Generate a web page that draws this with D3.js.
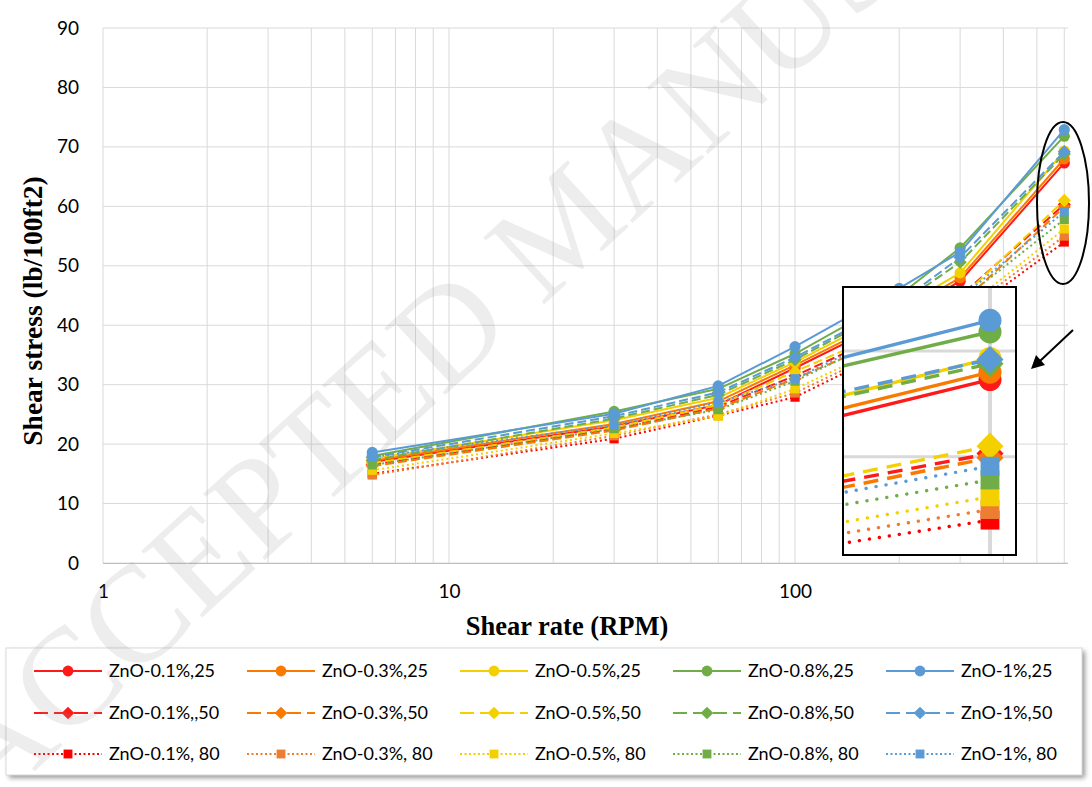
<!DOCTYPE html>
<html><head><meta charset="utf-8">
<script src="https://cdn.jsdelivr.net/npm/d3@7"></script>
<style>body{margin:0;background:#fff;}svg{display:block;}</style>
</head><body>
<svg id="chart" width="1092" height="787"></svg>
<script>
// ---------------- data ----------------
const shearRate = [6, 30, 60, 100, 200, 300, 600];
const yTicks = [0, 10, 20, 30, 40, 50, 60, 70, 80, 90];
const xTickLabels = [1, 10, 100];
const insetGridY = [60, 70];
const insetGridX = [600];

const zno01_25 = [17.0, 23.0, 26.6, 32.8, 41.5, 47.4, 67.3];
const zno03_25 = [17.2, 23.4, 27.2, 33.3, 42.0, 48.0, 68.0];
const zno05_25 = [17.5, 24.0, 27.8, 33.8, 42.8, 48.8, 69.3];
const zno08_25 = [18.0, 25.5, 29.3, 35.2, 45.0, 53.0, 71.8];
const zno1_25  = [18.6, 25.1, 29.8, 36.4, 46.2, 52.3, 72.9];
const zno01_50 = [16.6, 22.5, 26.3, 31.5, 39.5, 44.9, 60.3];
const zno03_50 = [16.3, 22.3, 26.0, 31.0, 38.5, 43.5, 59.9];
const zno05_50 = [16.8, 22.8, 26.6, 32.2, 39.8, 44.5, 61.0];
const zno08_50 = [17.3, 24.3, 28.3, 34.2, 43.5, 50.6, 68.8];
const zno1_50  = [17.8, 24.7, 28.7, 34.6, 43.8, 51.4, 69.2];
const zno01_80 = [15.0, 20.9, 24.8, 27.9, 36.5, 41.2, 54.0];
const zno03_80 = [14.8, 21.4, 25.0, 28.6, 37.0, 41.8, 55.0];
const zno05_80 = [15.6, 21.8, 24.7, 29.3, 37.5, 42.2, 56.2];
const zno08_80 = [16.5, 22.6, 25.8, 30.6, 39.0, 44.0, 57.8];
const zno1_80  = [17.8, 23.2, 27.0, 31.0, 39.5, 44.5, 59.1];

const seriesNames = ["ZnO-0.1%,25","ZnO-0.3%,25","ZnO-0.5%,25","ZnO-0.8%,25","ZnO-1%,25",
  "ZnO-0.1%,,50","ZnO-0.3%,50","ZnO-0.5%,50","ZnO-0.8%,50","ZnO-1%,50",
  "ZnO-0.1%, 80","ZnO-0.3%, 80","ZnO-0.5%, 80","ZnO-0.8%, 80","ZnO-1%, 80"];
const seriesValues = [zno01_25, zno03_25, zno05_25, zno08_25, zno1_25,
  zno01_50, zno03_50, zno05_50, zno08_50, zno1_50,
  zno01_80, zno03_80, zno05_80, zno08_80, zno1_80];

// ---------------- styles ----------------
const colors25 = ["#FF1A1A", "#FA7A00", "#F5D000", "#70AD47", "#5B9BD5"];
const colors80 = ["#FF0000", "#ED7D31", "#F5D000", "#70AD47", "#5B9BD5"];
const styles = ["solid", "dash", "dot"];
const markers = ["circle", "diamond", "square"];

const series = seriesNames.map((name, i) => {
  const g = Math.floor(i / 5), c = i % 5;
  return { name, values: seriesValues[i], color: g === 2 ? colors80[c] : colors25[c],
           style: styles[g], marker: markers[g] };
});

const svg = d3.select("#chart");
svg.append("rect").attr("width", 1092).attr("height", 787).attr("fill", "#fff");

const x = d3.scaleLog().domain([1, 615]).range([103, 1068]);
const y = d3.scaleLinear().domain([0, 90]).range([563, 28]);

const FONT = "Lato, 'Open Sans', sans-serif";
const SERIF = "'Liberation Serif', 'Times New Roman', serif";

// grid
const grid = svg.append("g");
grid.selectAll("line.v").data(x.ticks()).join("line")
  .attr("x1", d => x(d)).attr("x2", d => x(d)).attr("y1", 28).attr("y2", 563)
  .attr("stroke", "#d9d9d9").attr("stroke-width", 1);
grid.selectAll("line.h").data(yTicks).join("line")
  .attr("x1", 103).attr("x2", 1068).attr("y1", d => y(d)).attr("y2", d => y(d))
  .attr("stroke", "#d9d9d9").attr("stroke-width", 1);
svg.append("line").attr("x1", 103).attr("x2", 1068).attr("y1", 563.5).attr("y2", 563.5)
  .attr("stroke", "#bfbfbf").attr("stroke-width", 1.2);

// axes
const xAxis = svg.append("g").attr("transform", "translate(0,563)")
  .call(d3.axisBottom(x).tickValues(xTickLabels).tickFormat(d3.format("d")).tickSize(0).tickPadding(22));
const yAxis = svg.append("g").attr("transform", "translate(103,0)")
  .call(d3.axisLeft(y).tickValues(yTicks).tickSize(0).tickPadding(24));
[xAxis, yAxis].forEach(a => {
  a.select(".domain").remove();
  a.selectAll("text").attr("font-family", FONT).attr("font-size", 19).attr("fill", "#000");
});

svg.append("text").attr("x", 567).attr("y", 635).attr("text-anchor", "middle")
  .attr("font-family", SERIF).attr("font-weight", "bold")
  .attr("font-size", 26.5).text("Shear rate (RPM)");
svg.append("text").attr("transform", "translate(42,311) rotate(-90)").attr("text-anchor", "middle")
  .attr("font-family", SERIF).attr("font-weight", "bold")
  .attr("font-size", 27.5).text("Shear stress (lb/100ft2)");

// marker drawing helper
function drawMarker(g, type, cx, cy, size, color) {
  if (type === "circle") {
    g.append("circle").attr("cx", cx).attr("cy", cy).attr("r", size).attr("fill", color);
  } else if (type === "diamond") {
    const s = size * 1.18;
    g.append("path").attr("d", `M${cx},${cy - s}L${cx + s},${cy}L${cx},${cy + s}L${cx - s},${cy}Z`).attr("fill", color);
  } else {
    const s = size * 0.82;
    g.append("rect").attr("x", cx - s).attr("y", cy - s).attr("width", 2 * s).attr("height", 2 * s).attr("fill", color);
  }
}

function drawSeries(g, xs, ys, opts) {
  const line = d3.line().x((d, i) => xs(shearRate[i])).y(d => ys(d));
  series.forEach(s => {
    const p = g.append("path").attr("d", line(s.values)).attr("fill", "none")
      .attr("stroke", s.color).attr("stroke-width", opts.lw);
    if (s.style === "dash") p.attr("stroke-dasharray", opts.dash);
    if (s.style === "dot") p.attr("stroke-dasharray", opts.dot).attr("stroke-linecap", opts.dotCap);
    s.values.forEach((v, i) => drawMarker(g, s.marker, xs(shearRate[i]), ys(v), opts.ms, s.color));
  });
}

// main series
drawSeries(svg.append("g"), x, y, { lw: 2, dash: "9,4", dot: "2,3", dotCap: "butt", ms: 5.6 });

// ---------------- inset ----------------
const inset = { x0: 843, y0: 287, x1: 1016, y1: 555 };
const xi = d3.scaleLog().domain([533, 600]).range([843, 990]);
const yi = d3.scaleLinear().domain([60, 70]).range([456.7, 351]);
svg.append("clipPath").attr("id", "insetClip").append("rect")
  .attr("x", inset.x0).attr("y", inset.y0).attr("width", inset.x1 - inset.x0).attr("height", inset.y1 - inset.y0);
const ig = svg.append("g").attr("clip-path", "url(#insetClip)");
ig.append("rect").attr("x", inset.x0).attr("y", inset.y0).attr("width", inset.x1 - inset.x0)
  .attr("height", inset.y1 - inset.y0).attr("fill", "#fff");
ig.selectAll("line.h").data(insetGridY).join("line")
  .attr("x1", inset.x0).attr("x2", inset.x1).attr("y1", d => yi(d)).attr("y2", d => yi(d))
  .attr("stroke", "#d9d9d9").attr("stroke-width", 3);
ig.selectAll("line.v").data(insetGridX).join("line")
  .attr("x1", d => xi(d)).attr("x2", d => xi(d)).attr("y1", inset.y0).attr("y2", inset.y1)
  .attr("stroke", "#d9d9d9").attr("stroke-width", 4);
drawSeries(ig, xi, yi, { lw: 3.4, dash: "15,9", dot: "0.1,10", dotCap: "round", ms: 11.5 });
svg.append("rect").attr("x", inset.x0).attr("y", inset.y0).attr("width", inset.x1 - inset.x0)
  .attr("height", inset.y1 - inset.y0).attr("fill", "none").attr("stroke", "#000").attr("stroke-width", 2);

// ellipse + arrow
svg.append("ellipse").attr("cx", 1063).attr("cy", 203).attr("rx", 26).attr("ry", 81)
  .attr("fill", "none").attr("stroke", "#000").attr("stroke-width", 2);
svg.append("line").attr("x1", 1073).attr("y1", 330).attr("x2", 1040).attr("y2", 361)
  .attr("stroke", "#000").attr("stroke-width", 2);
svg.append("path").attr("d", "M1031,369 L1036,355 L1045,365 Z").attr("fill", "#000");

// ---------------- legend ----------------
const defs = svg.append("defs");
const f = defs.append("filter").attr("id", "shadow").attr("x", "-5%").attr("y", "-20%").attr("width", "110%").attr("height", "140%");
f.append("feGaussianBlur").attr("stdDeviation", 2.5);
svg.append("rect").attr("x", 9).attr("y", 651).attr("width", 1076).attr("height", 127)
  .attr("fill", "#999").attr("filter", "url(#shadow)");
svg.append("rect").attr("x", 6).attr("y", 648).attr("width", 1076).attr("height", 127)
  .attr("fill", "#fff").attr("stroke", "#d9d9d9");
const colX = [34, 247, 460, 673, 886];
const rowY = [671, 713, 754];
const lg = svg.append("g");
series.forEach((s, i) => {
  const cx = colX[i % 5], cy = rowY[Math.floor(i / 5)];
  const l = lg.append("line").attr("x1", cx).attr("x2", cx + 68).attr("y1", cy).attr("y2", cy)
    .attr("stroke", s.color).attr("stroke-width", 2);
  if (s.style === "dash") l.attr("stroke-dasharray", "14,6");
  if (s.style === "dot") l.attr("stroke-dasharray", "2,2.5");
  drawMarker(lg, s.marker, cx + 34, cy, 5.4, s.color);
  lg.append("text").attr("x", cx + 75).attr("y", cy).attr("dy", "0.35em")
    .attr("font-family", FONT).attr("font-size", 18).attr("fill", "#000").text(s.name);
});

// watermark
svg.append("text").attr("transform", "translate(-10,812) rotate(-42.5)")
  .attr("font-family", SERIF).attr("font-size", 138)
  .attr("fill", "#8c8c8c").attr("fill-opacity", 0.16).text("ACCEPTED MANUSCRIPT");
</script>
</body></html>
